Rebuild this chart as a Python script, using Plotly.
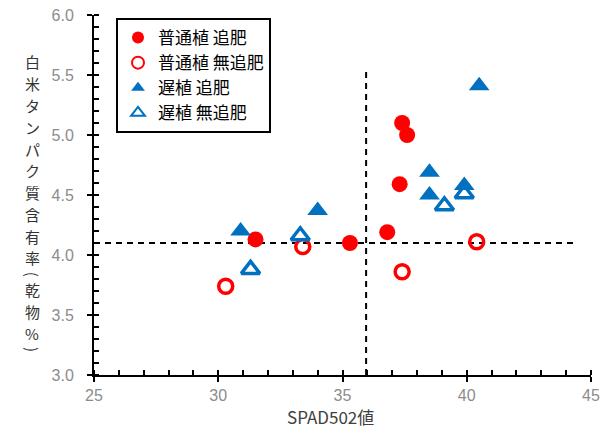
import plotly.graph_objects as go

# 普通植 追肥 (normal planting, topdressing)
normal_fert_x = [31.5, 35.3, 36.8, 37.3, 37.4, 37.6]
normal_fert_y = [4.13, 4.10, 4.19, 4.59, 5.10, 5.00]
# 普通植 無追肥
normal_nofert_x = [30.3, 33.4, 37.4, 40.4]
normal_nofert_y = [3.74, 4.07, 3.86, 4.11]
# 遅植 追肥
late_fert_x = [30.9, 34.0, 38.5, 38.5, 39.9, 40.5]
late_fert_y = [4.20, 4.37, 4.69, 4.50, 4.58, 5.41]
# 遅植 無追肥
late_nofert_x = [31.3, 33.3, 39.1, 39.9]
late_nofert_y = [3.88, 4.16, 4.41, 4.51]

ref_x = 35.95
ref_y = 4.1
hline_x = [25, 44.4]
vline_y = [3.0, 5.55]

x_ticks = [25, 30, 35, 40, 45]
y_ticks = [3.0, 3.5, 4.0, 4.5, 5.0, 5.5, 6.0]
y_title = "白米タンパク質含有率(乾物%)"
x_title = "SPAD502値"

RED = "#ff0000"
BLUE = "#0070c0"
JP = "Noto Sans CJK JP"

W, H = 605, 432
ML, MR, MT, MB = 94, 14, 15, 57
PW, PH = W - ML - MR, H - MT - MB

fig = go.Figure()

fig.add_trace(go.Scatter(x=hline_x, y=[ref_y, ref_y], mode="lines",
                         line=dict(color="black", width=2, dash="6px,5px"),
                         showlegend=False, hoverinfo="skip"))
fig.add_trace(go.Scatter(x=[ref_x, ref_x], y=vline_y, mode="lines",
                         line=dict(color="black", width=2, dash="6px,5px"),
                         showlegend=False, hoverinfo="skip"))

fig.add_trace(go.Scatter(x=normal_fert_x, y=normal_fert_y, mode="markers",
                         name="普通植 追肥",
                         marker=dict(symbol="circle", size=16, color=RED)))
fig.add_trace(go.Scatter(x=normal_nofert_x, y=normal_nofert_y, mode="markers",
                         name="普通植 無追肥",
                         marker=dict(symbol="circle-open", size=14, color=RED,
                                     line=dict(width=3.5, color=RED))))
fig.add_trace(go.Scatter(x=late_fert_x, y=late_fert_y, mode="markers",
                         name="遅植 追肥",
                         marker=dict(symbol="triangle-up", size=18, color=BLUE)))
fig.add_trace(go.Scatter(x=late_nofert_x, y=late_nofert_y, mode="markers",
                         name="遅植 無追肥",
                         marker=dict(symbol="triangle-up-open", size=16, color=BLUE,
                                     line=dict(width=3.5, color=BLUE))))

axis_common = dict(showgrid=False, zeroline=False, showline=True,
                   linecolor="black", linewidth=2, ticks="outside",
                   ticklen=5, tickwidth=2, tickcolor="black",
                   tickfont=dict(family="Liberation Sans, Arial", size=16, color="#8c8c8c"),
                   mirror=False, automargin=False)

fig.update_layout(
    width=W, height=H,
    margin=dict(l=ML, r=MR, t=MT, b=MB),
    plot_bgcolor="white", paper_bgcolor="white",
    xaxis=dict(range=[25, 45], tickvals=x_ticks, ticktext=[str(v) for v in x_ticks],
               minor=dict(dtick=1, ticks="inside", ticklen=5, tickwidth=2, tickcolor="black"),
               **axis_common),
    yaxis=dict(range=[3.0, 6.0], tickvals=y_ticks, ticktext=[f"{v:.1f}" for v in y_ticks],
               minor=dict(dtick=0.1, ticks="inside", ticklen=5, tickwidth=2, tickcolor="black"),
               ticklabelstandoff=10,
               **axis_common),
    xaxis2=dict(overlaying="x", matches="x", range=[25, 45], tickvals=x_ticks,
                ticks="inside", ticklen=5, tickwidth=2, tickcolor="black",
                showticklabels=False, showgrid=False, zeroline=False, showline=False),
    yaxis2=dict(overlaying="y", matches="y", range=[3.0, 6.0], tickvals=y_ticks,
                ticks="inside", ticklen=5, tickwidth=2, tickcolor="black",
                showticklabels=False, showgrid=False, zeroline=False, showline=False),
    legend=dict(x=(116 - ML) / PW, y=1 - (18 - MT) / PH, xanchor="left", yanchor="top",
                bordercolor="black", borderwidth=2, bgcolor="white",
                font=dict(family=JP, size=17, color="black"),
                tracegroupgap=0, itemwidth=30, itemsizing="constant"),
    showlegend=True,
)

fig.add_trace(go.Scatter(x=[None], y=[None], xaxis="x2", yaxis="y2",
                         showlegend=False, hoverinfo="skip"))

# x-axis title
fig.add_annotation(text=x_title, xref="paper", yref="paper",
                   x=(330 - ML) / PW, y=(MT + PH - 416) / PH,
                   xanchor="center", yanchor="middle", showarrow=False, borderpad=0,
                   font=dict(family=JP, size=17, color="#404040"))

# vertical y-axis title, one glyph per line (brackets rotated like vertical text)
FS = 15
step = FS * 1.45
py = 62
prev_paren = False
for i, ch in enumerate(y_title):
    is_paren = ch in "()"
    if i > 0:
        py += (step / 2 if not prev_paren else 5) + (step / 2 if not is_paren else 5)
    fig.add_annotation(text=ch, xref="paper", yref="paper",
                       x=(32 - ML) / PW, y=(MT + PH - py) / PH,
                       xanchor="center", yanchor="middle", showarrow=False,
                       textangle=90 if is_paren else 0, borderpad=0,
                       font=dict(family=JP, size=FS, color="#333333"))
    prev_paren = is_paren

fig.write_html("out.html", config={"displayModeBar": False},
               post_script="document.body.style.margin='0';")
